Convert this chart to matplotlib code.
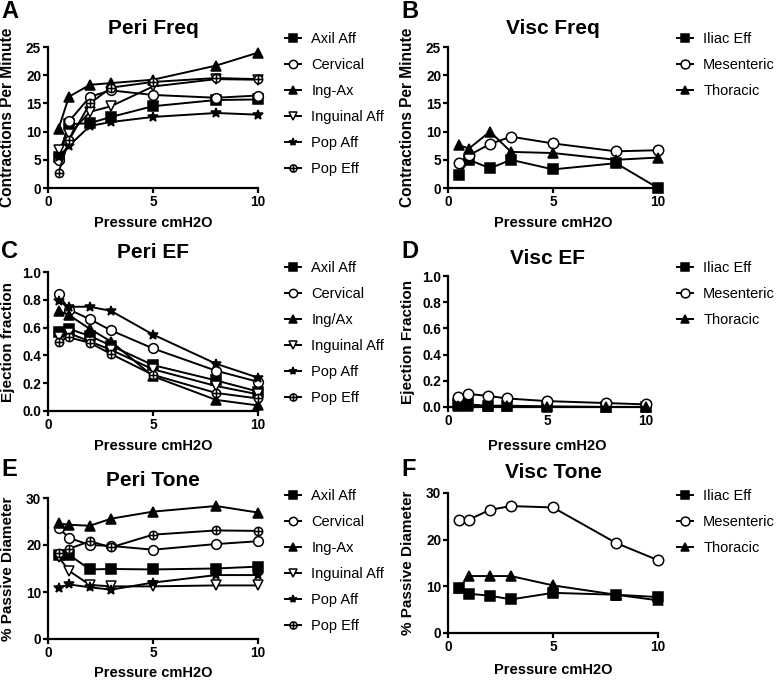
import numpy as np
import matplotlib
matplotlib.use("Agg")
import matplotlib.pyplot as plt
from matplotlib.path import Path

plt.rcParams['font.family'] = ['Liberation Sans', 'DejaVu Sans']

pressure = [0.5, 1, 2, 3, 5, 8, 10]

peri_names = ["Axil Aff", "Cervical", "Ing-Ax", "Inguinal Aff", "Pop Aff", "Pop Eff"]
peri_names_ef = ["Axil Aff", "Cervical", "Ing/Ax", "Inguinal Aff", "Pop Aff", "Pop Eff"]
visc_names = ["Iliac Eff", "Mesenteric", "Thoracic"]

# Peri Freq
peri_freq_axil = [5.5, 11.3, 11.5, 12.6, 14.5, 15.6, 15.7]
peri_freq_cerv = [5.0, 11.8, 16.2, 17.3, 16.5, 16.0, 16.4]
peri_freq_ingax = [10.5, 16.2, 18.3, 18.6, 19.2, 21.7, 24.0]
peri_freq_ingaff = [6.8, 9.5, 13.5, 14.5, 18.0, 19.3, 19.2]
peri_freq_popaff = [5.5, 7.5, 11.0, 11.7, 12.6, 13.3, 13.0]
peri_freq_popeff = [2.7, 8.5, 15.0, 17.8, 18.8, 19.5, 19.3]

# Visc Freq
visc_freq_iliac = [2.3, 5.0, 3.5, 5.0, 3.3, 4.4, 0.0]
visc_freq_mes = [4.4, 5.8, 7.8, 9.1, 7.9, 6.5, 6.7]
visc_freq_thor = [7.6, 7.0, 10.0, 6.4, 6.2, 5.0, 5.4]

# Peri EF
peri_ef_axil = [0.57, 0.59, 0.54, 0.47, 0.33, 0.22, 0.14]
peri_ef_cerv = [0.84, 0.73, 0.66, 0.58, 0.45, 0.29, 0.21]
peri_ef_ingax = [0.72, 0.69, 0.59, 0.50, 0.25, 0.08, 0.04]
peri_ef_ingaff = [0.53, 0.56, 0.50, 0.44, 0.30, 0.18, 0.12]
peri_ef_popaff = [0.79, 0.75, 0.75, 0.72, 0.55, 0.34, 0.24]
peri_ef_popeff = [0.50, 0.53, 0.49, 0.41, 0.26, 0.13, 0.09]

# Visc EF
visc_ef_iliac = [0.02, 0.02, 0.01, 0.01, 0.005, 0.0, 0.0]
visc_ef_mes = [0.08, 0.10, 0.085, 0.065, 0.045, 0.03, 0.02]
visc_ef_thor = [0.01, 0.01, 0.005, 0.005, 0.0, 0.0, 0.0]

# Peri Tone
peri_tone_axil = [17.9, 17.9, 14.8, 14.9, 14.8, 15.0, 15.4]
peri_tone_cerv = [23.7, 21.5, 20.0, 19.8, 19.0, 20.2, 20.8]
peri_tone_ingax = [24.6, 24.3, 24.1, 25.6, 27.1, 28.3, 26.9]
peri_tone_ingaff = [17.5, 14.5, 11.5, 11.2, 11.2, 11.4, 11.4]
peri_tone_popaff = [10.9, 11.6, 11.0, 10.5, 12.0, 13.6, 13.6]
peri_tone_popeff = [18.4, 19.2, 20.8, 19.5, 22.2, 23.1, 23.0]

# Visc Tone
visc_tone_iliac = [9.6, 8.4, 8.0, 7.2, 8.6, 8.2, 7.7]
visc_tone_mes = [24.3, 24.3, 26.4, 27.2, 26.9, 19.3, 15.6]
visc_tone_thor = [9.6, 12.2, 12.2, 12.2, 10.2, 8.2, 7.0]

# marker for Pop Eff: circle with cross
circ = Path.unit_circle()
cross = Path([[-1, 0], [1, 0], [0, -1], [0, 1]],
             [Path.MOVETO, Path.LINETO, Path.MOVETO, Path.LINETO])
oplus = Path.make_compound_path(circ, cross)

peri_styles = [
    dict(marker='s', mfc='black', ms=6.5),
    dict(marker='o', mfc='white', ms=7),
    dict(marker='^', mfc='black', ms=6.5),
    dict(marker='v', mfc='white', ms=7),
    dict(marker='*', mfc='black', ms=7),
    dict(marker=oplus, mfc='white', ms=6),
]
visc_styles = [
    dict(marker='s', mfc='black', ms=6.5),
    dict(marker='o', mfc='white', ms=7.5),
    dict(marker='^', mfc='black', ms=6.5),
]

W, H = 777, 686
fig = plt.figure(figsize=(W / 100, H / 100), dpi=100)


def px_axes(x0, x1, ytop, ybot):
    return fig.add_axes([x0 / W, (H - ybot) / H, (x1 - x0) / W, (ybot - ytop) / H])


def fx(px):
    return px / W


def fy(py):
    return 1 - py / H


def style_ax(ax, title, ylabel, ylim, yticks, letter, yfmt,
             title_y, xlabel_y, letter_xy, ylabel_x, ylabel_size=11):
    ax.set_xlim(0, 10)
    ax.set_ylim(*ylim)
    ax.set_xticks([0, 5, 10])
    ax.set_yticks(yticks)
    ax.set_yticklabels([yfmt.format(v) for v in yticks])
    for s in ['top', 'right']:
        ax.spines[s].set_visible(False)
    for s in ['left', 'bottom']:
        ax.spines[s].set_linewidth(1.6)
    ax.tick_params(width=1.6, length=3.5, labelsize=9.8, direction='out', pad=1.5)
    for lab in ax.get_xticklabels() + ax.get_yticklabels():
        lab.set_fontweight('bold')
    bb = ax.get_position()
    xc = (bb.x0 + bb.x1) / 2
    fig.text(xc, fy(title_y), title, fontsize=15, fontweight='bold',
             ha='center', va='center')
    fig.text(xc, fy(xlabel_y), 'Pressure cmH2O', fontsize=10.5, fontweight='bold',
             ha='center', va='center')
    yc = (bb.y0 + bb.y1) / 2
    fig.text(fx(ylabel_x), yc, ylabel, fontsize=ylabel_size, fontweight='bold',
             ha='center', va='center', rotation=90)
    fig.text(fx(letter_xy[0]), fy(letter_xy[1]), letter, fontsize=17, fontweight='bold',
             va='center', ha='left')


def draw(ax, series, names, styles, leg_x, leg_y):
    for ys, nm, st in zip(series, names, styles):
        ax.plot(pressure, ys, color='black', lw=1.4, mec='black', mew=1.1,
                label=nm, clip_on=False, **st)
    ax.legend(loc='upper left', bbox_to_anchor=(leg_x / W, 1 - leg_y / H),
              bbox_transform=fig.transFigure, frameon=False, fontsize=10.5,
              handlelength=1.1, handletextpad=0.7, labelspacing=0.82,
              borderpad=0, borderaxespad=0, markerscale=0.85)


# A
axA = px_axes(48, 258, 47, 188)
draw(axA, [peri_freq_axil, peri_freq_cerv, peri_freq_ingax, peri_freq_ingaff,
           peri_freq_popaff, peri_freq_popeff], peri_names, peri_styles, 285, 32)
style_ax(axA, 'Peri Freq', 'Contractions Per Minute', (0, 25), [0, 5, 10, 15, 20, 25], 'A', '{:g}',
         28, 223, (1, 12), 8, 11.2)

# B
axB = px_axes(448, 658, 47, 188)
draw(axB, [visc_freq_iliac, visc_freq_mes, visc_freq_thor], visc_names, visc_styles, 677, 32)
style_ax(axB, 'Visc Freq', 'Contractions Per Minute', (0, 25), [0, 5, 10, 15, 20, 25], 'B', '{:g}',
         29, 223, (401, 11), 408, 11.2)

# C
axC = px_axes(48, 258, 272, 411)
draw(axC, [peri_ef_axil, peri_ef_cerv, peri_ef_ingax, peri_ef_ingaff,
           peri_ef_popaff, peri_ef_popeff], peri_names_ef, peri_styles, 285, 261)
style_ax(axC, 'Peri EF', 'Ejection fraction', (0, 1.0), [0, 0.2, 0.4, 0.6, 0.8, 1.0], 'C', '{:.1f}',
         253, 446, (1, 251), 8)

# D
axD = px_axes(448, 646, 276, 407)
draw(axD, [visc_ef_iliac, visc_ef_mes, visc_ef_thor], visc_names, visc_styles, 677, 261)
style_ax(axD, 'Visc EF', 'Ejection Fraction', (0, 1.0), [0, 0.2, 0.4, 0.6, 0.8, 1.0], 'D', '{:.1f}',
         259, 446, (401, 251), 408)

# E
axE = px_axes(48, 258, 498, 639)
draw(axE, [peri_tone_axil, peri_tone_cerv, peri_tone_ingax, peri_tone_ingaff,
           peri_tone_popaff, peri_tone_popeff], peri_names, peri_styles, 285, 489)
style_ax(axE, 'Peri Tone', '% Passive Diameter', (0, 30), [0, 10, 20, 30], 'E', '{:g}',
         480, 673, (1, 470), 8)

# F
axF = px_axes(448, 658, 493, 633)
draw(axF, [visc_tone_iliac, visc_tone_mes, visc_tone_thor], visc_names, visc_styles, 677, 489)
style_ax(axF, 'Visc Tone', '% Passive Diameter', (0, 30), [0, 10, 20, 30], 'F', '{:g}',
         473, 670, (401, 470), 408)

fig.savefig('out.png', dpi=100)
